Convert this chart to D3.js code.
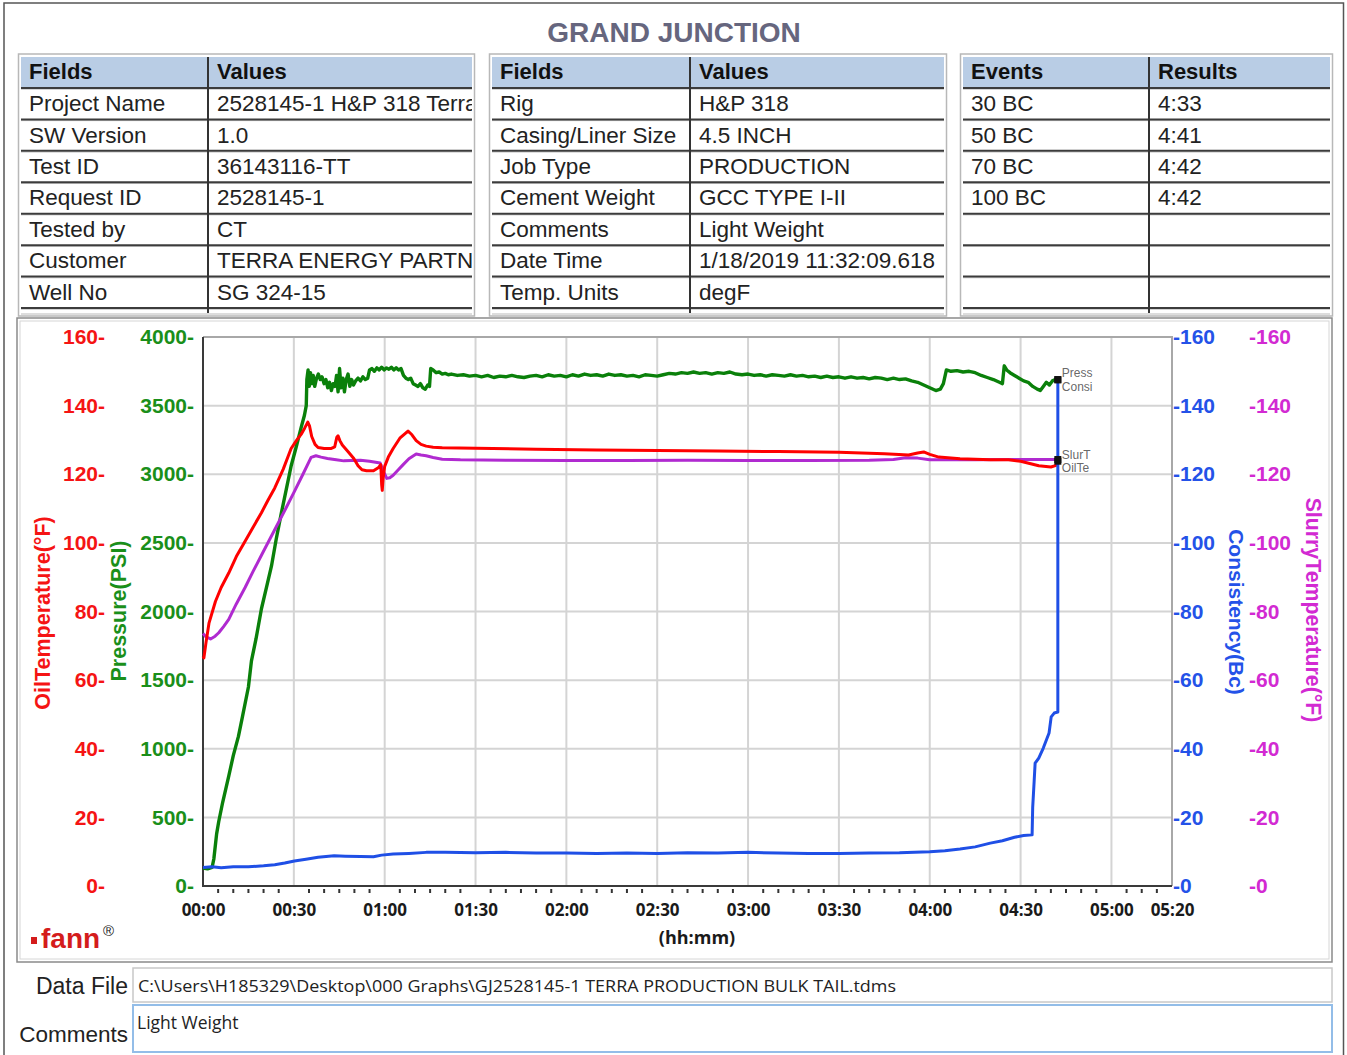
<!DOCTYPE html>
<html><head><meta charset="utf-8">
<script src="https://cdn.jsdelivr.net/npm/d3@7"></script>
<style>body{margin:0;background:#fff}svg{display:block}</style>
</head><body>
<svg id="c" width="1347" height="1055"></svg>
<script>
// ---------------- DATA ----------------
const chartTitle = "GRAND JUNCTION";
const t1Header = ["Fields", "Values"];
const t1Fields = ["Project Name", "SW Version", "Test ID", "Request ID", "Tested by", "Customer", "Well No"];
const t1Values = ["2528145-1 H&P 318 Terra", "1.0", "36143116-TT", "2528145-1", "CT", "TERRA ENERGY PARTN", "SG 324-15"];
const t2Header = ["Fields", "Values"];
const t2Fields = ["Rig", "Casing/Liner Size", "Job Type", "Cement Weight", "Comments", "Date Time", "Temp. Units"];
const t2Values = ["H&P 318", "4.5 INCH", "PRODUCTION", "GCC TYPE I-II", "Light Weight", "1/18/2019 11:32:09.618", "degF"];
const t3Header = ["Events", "Results"];
const t3Events = ["30 BC", "50 BC", "70 BC", "100 BC", "", "", ""];
const t3Results = ["4:33", "4:41", "4:42", "4:42", "", "", ""];

const timeTickMinutes = [0, 30, 60, 90, 120, 150, 180, 210, 240, 270, 300, 320];
const timeTickLabels = ["00:00", "00:30", "01:00", "01:30", "02:00", "02:30", "03:00", "03:30", "04:00", "04:30", "05:00", "05:20"];
const tempTicks = [0, 20, 40, 60, 80, 100, 120, 140, 160];
const pressTicks = [0, 500, 1000, 1500, 2000, 2500, 3000, 3500, 4000];
const consTicks = [0, 20, 40, 60, 80, 100, 120, 140, 160];
const slurryTicks = [0, 20, 40, 60, 80, 100, 120, 140, 160];

const xLabel = "(hh:mm)";
const oilLabel = "OilTemperature(°F)";
const pressLabel = "Pressure(PSI)";
const consLabel = "Consistency(Bc)";
const slurryLabel = "SlurryTemperature(°F)";
const endLabels = ["Press", "Consi", "OilTe", "SlurT"];

// [minutes, psi]
const pressure = [[0,130],[1.5,125],[3,135],[3.6,200],[4.5,380],[5.2,470],[6.5,610],[8.5,800],[10,950],[11.7,1090],[13,1230],[15,1450],[16,1640],[17.5,1800],[19.3,2020],[21,2180],[22.6,2330],[24.2,2530],[25.9,2720],[27.5,2890],[29.1,3060],[30.8,3200],[32.4,3340],[33.5,3430],[34.1,3500],[34.3,3690],[34.7,3760],[35.1,3640],[35.5,3740],[35.9,3660],[36.4,3720],[36.9,3640],[37.5,3700],[38.1,3730],[38.7,3690],[39.3,3710],[40,3660],[40.6,3690],[41.2,3630],[41.8,3670],[42.4,3610],[43,3660],[43.6,3640],[44.1,3720],[44.6,3600],[45.1,3770],[45.6,3630],[46.2,3700],[46.7,3600],[47.3,3690],[47.9,3730],[48.5,3640],[49.1,3690],[49.7,3650],[50.4,3680],[51.2,3700],[52,3680],[52.8,3710],[53.6,3690],[54.4,3700],[55,3760],[55.8,3770],[56.6,3750],[57.4,3775],[58.2,3760],[59,3780],[59.8,3760],[60.6,3775],[61.4,3765],[62.2,3780],[63,3760],[63.8,3775],[64.6,3760],[65.4,3770],[66.2,3720],[67,3700],[67.8,3690],[68.6,3700],[69.4,3660],[70.2,3650],[71,3640],[71.8,3660],[72.6,3630],[73.4,3620],[74.2,3650],[74.8,3640],[75.2,3770],[76,3760],[77,3740],[78,3745],[79,3730],[80,3735],[81,3725],[82,3730],[84,3720],[86,3725],[88,3715],[90,3720],[92,3710],[94,3720],[96,3705],[98,3715],[100,3710],[102,3720],[104,3710],[106,3705],[108,3715],[110,3720],[112,3710],[114,3725],[116,3715],[118,3720],[120,3710],[122,3725],[124,3715],[126,3730],[128,3720],[130,3725],[132,3715],[134,3730],[136,3720],[138,3725],[140,3715],[142,3720],[144,3710],[146,3725],[148,3720],[150,3715],[152,3725],[154,3735],[156,3730],[158,3740],[160,3735],[162,3745],[164,3735],[166,3740],[168,3730],[170,3740],[172,3735],[174,3745],[176,3730],[178,3725],[180,3730],[182,3720],[184,3725],[186,3715],[188,3725],[190,3720],[192,3715],[194,3725],[196,3715],[198,3720],[200,3710],[202,3715],[204,3705],[206,3715],[208,3705],[210,3710],[212,3700],[214,3710],[216,3700],[218,3705],[220,3695],[222,3705],[224,3700],[226,3690],[228,3700],[230,3690],[232,3695],[234,3680],[236,3670],[238,3650],[240,3630],[242,3610],[243.5,3620],[244.5,3660],[245.5,3760],[247,3750],[249,3755],[251,3745],[253,3750],[255,3740],[257,3720],[259,3705],[261,3690],[263,3670],[264,3660],[264.6,3790],[265.4,3760],[266.5,3740],[268,3720],[269.5,3700],[271,3680],[272.5,3670],[274,3640],[275.5,3620],[276.5,3610],[277.5,3640],[278.5,3670],[279.5,3650],[280.5,3680],[281.5,3690],[282.3,3690]];

// [minutes, °F]
const oilTemp = [[0,67],[0.3,66.5],[1,71],[2,76.7],[4.1,82.9],[6,87],[8.5,91.2],[11,96],[13.9,100.5],[16.5,104.5],[19.3,108.8],[21.5,112.5],[23.7,116],[26.5,121.5],[29.1,127.5],[31,130],[32.4,131.6],[33.6,133.5],[34.6,135.2],[35.2,134],[35.9,131],[37,128.7],[38,127.8],[40,127.5],[42.2,127.5],[43.5,128],[44.2,130.8],[44.6,131.2],[45.2,129.8],[46,128.5],[48,126.5],[49.8,124.6],[51.2,122.5],[52.5,121.3],[54,121],[56.3,121],[58,122],[58.7,122.8],[59,117],[59.2,115.3],[59.5,119],[60,122.3],[61.2,125],[62.8,127.5],[65,130.5],[67.7,132.6],[69,131.5],[70.4,129.8],[72,128.7],[73.7,128.2],[76,127.9],[79,127.7],[90,127.6],[110,127.3],[130,127.1],[150,126.9],[170,126.8],[190,126.6],[210,126.4],[225,126],[233,125.6],[236,126.2],[238,126.5],[240,125.8],[243,125],[250,124.5],[260,124.2],[266,124.2],[270,123.8],[276,122.5],[280,122.1],[281.5,122.5],[282.3,123.8]];

// [minutes, °F]
const slurryTemp = [[0,73.6],[1,72.6],[2.5,72],[4,72.8],[5.2,73.8],[6.8,75.6],[8.5,77.7],[11,82.2],[13.9,87],[16.5,91.6],[19.3,96.4],[22,101],[24.8,105.7],[27.5,110.3],[30.2,115],[33,120],[35.7,124.9],[37.3,125.4],[39,125],[41.1,124.6],[44,124.2],[46.5,123.9],[49,124],[52,124.1],[55,123.8],[58.5,123.3],[59.5,121],[60.7,118.8],[61.7,119],[62.8,119.7],[64.5,121.3],[66.1,122.8],[68,124.5],[70.4,125.9],[72,125.6],[73.7,125.4],[76,124.9],[79,124.4],[85,124.2],[100,124.1],[120,124],[140,124],[160,124.1],[180,124],[200,124],[220,124.1],[228,124.3],[232,124.8],[236,124.7],[240,124.2],[255,124.2],[270,124.3],[282.3,124.3]];

// [minutes, Bc]
const consistency = [[0,5.4],[3,5.6],[6,5.3],[10,5.6],[15,5.6],[20,5.9],[23.7,6.2],[27,6.7],[30.2,7.3],[34,7.8],[38,8.4],[43.3,8.8],[47,8.7],[52,8.6],[56.3,8.5],[59,9],[62.8,9.3],[68,9.5],[73.7,9.8],[80,9.8],[90,9.7],[100,9.8],[110,9.6],[120,9.6],[130,9.5],[140,9.6],[150,9.5],[160,9.7],[170,9.6],[180,9.8],[190,9.6],[200,9.5],[210,9.5],[220,9.6],[230,9.7],[240,10],[245,10.3],[250,10.8],[255,11.4],[260,12.5],[264,13.2],[268,14.2],[271,14.7],[273.8,14.9],[274,23],[274.5,30.9],[274.8,35.8],[276,37.3],[277.5,40.2],[279.4,44.6],[280.1,49.3],[281.1,50.4],[282.3,50.7],[282.3,147.5]];

const dataFileLabel = "Data File";
const dataFilePath = "C:\\Users\\H185329\\Desktop\\000 Graphs\\GJ2528145-1 TERRA PRODUCTION BULK TAIL.tdms";
const commentsLabel = "Comments";
const commentsText = "Light Weight";

// ---------------- DRAW ----------------
const svg = d3.select("#c");
const SANS = "'Liberation Sans', Arial, sans-serif";
const OPEN = "'Open Sans', 'DejaVu Sans', sans-serif";

const C = {red: "#ff0000", green: "#0a800a", purple: "#b02ad0", blue: "#1f4fe6",
  redT: "#f51414", greenT: "#1a8f1a", blueT: "#2452e8", magT: "#d22ad2"};

// page border
svg.append("path").attr("d", "M4,1056 L4,3 L1343.5,3 L1343.5,1056")
  .attr("fill", "none").attr("stroke", "#555").attr("stroke-width", 1.5);

// title
svg.append("text").attr("x", 674).attr("y", 42).attr("text-anchor", "middle")
  .attr("font-family", SANS).attr("font-weight", "bold").attr("font-size", 28)
  .attr("fill", "#66667e").text(chartTitle);

// tables
function drawTable(id, left, right, div, header, col1, col2) {
  const g = svg.append("g");
  const top = 56, hb = 88, rowH = 31.43;
  g.append("rect").attr("x", left - 1.5).attr("y", 54).attr("width", right - left + 3).attr("height", 262)
    .attr("fill", "none").attr("stroke", "#b8b8b8").attr("stroke-width", 1.5);
  g.append("rect").attr("x", left + 1).attr("y", top + 1).attr("width", right - left - 2).attr("height", hb - top - 1)
    .attr("fill", "#b9cde5");
  for (let k = 0; k <= 7; k++) {
    const yy = hb + rowH * k;
    g.append("line").attr("x1", left + 1).attr("x2", right - 1).attr("y1", yy + 1.2).attr("y2", yy + 1.2)
      .attr("stroke", "#c4c4c4").attr("stroke-width", 1);
    g.append("line").attr("x1", left + 1).attr("x2", right - 1).attr("y1", yy).attr("y2", yy)
      .attr("stroke", "#3c3c3c").attr("stroke-width", 2);
  }
  g.append("line").attr("x1", left + 1).attr("x2", right - 1).attr("y1", 314).attr("y2", 314)
    .attr("stroke", "#bbb").attr("stroke-width", 1.2);
  g.append("line").attr("x1", div).attr("x2", div).attr("y1", top + 1).attr("y2", 313)
    .attr("stroke", "#333").attr("stroke-width", 2);
  const cp1 = id + "a", cp2 = id + "b";
  const defs = svg.append("defs");
  defs.append("clipPath").attr("id", cp1).append("rect").attr("x", left).attr("y", 50).attr("width", div - left - 2).attr("height", 270);
  defs.append("clipPath").attr("id", cp2).append("rect").attr("x", div + 2).attr("y", 50).attr("width", right - div - 3).attr("height", 270);
  const tx1 = left + 9, tx2 = div + 9;
  g.append("text").attr("x", tx1).attr("y", 71).attr("dy", "0.35em").attr("font-family", SANS)
    .attr("font-weight", "bold").attr("font-size", 22).attr("fill", "#111").text(header[0]);
  g.append("text").attr("x", tx2).attr("y", 71).attr("dy", "0.35em").attr("font-family", SANS)
    .attr("font-weight", "bold").attr("font-size", 22).attr("fill", "#111").text(header[1]);
  g.append("g").attr("clip-path", `url(#${cp1})`).selectAll("text").data(col1).join("text")
    .attr("x", tx1).attr("y", (d, i) => hb + rowH * i + rowH / 2 - 0.5).attr("dy", "0.35em")
    .attr("font-family", SANS).attr("font-size", 22.5).attr("fill", "#222").text(d => d);
  g.append("g").attr("clip-path", `url(#${cp2})`).selectAll("text").data(col2).join("text")
    .attr("x", tx2).attr("y", (d, i) => hb + rowH * i + rowH / 2 - 0.5).attr("dy", "0.35em")
    .attr("font-family", SANS).attr("font-size", 22.5).attr("fill", "#222").text(d => d);
}
drawTable("t1", 20, 473, 208, t1Header, t1Fields, t1Values);
drawTable("t2", 491, 945, 690, t2Header, t2Fields, t2Values);
drawTable("t3", 962, 1331, 1149, t3Header, t3Events, t3Results);

// chart frame
svg.append("rect").attr("x", 17).attr("y", 318).attr("width", 1315).attr("height", 644)
  .attr("fill", "none").attr("stroke", "#8a8a8a").attr("stroke-width", 1.5);
svg.append("rect").attr("x", 20).attr("y", 321).attr("width", 1309).attr("height", 638)
  .attr("fill", "none").attr("stroke", "#d6d6d6").attr("stroke-width", 1);

// scales
const L = 203, R = 1172, T = 337, B = 886;
const x = d3.scaleLinear().domain([0, 320]).range([L, R]);
const yTemp = d3.scaleLinear().domain([0, 160]).range([B, T]);
const yPress = d3.scaleLinear().domain([0, 4000]).range([B, T]);
const yCons = d3.scaleLinear().domain([0, 160]).range([B, T]);
const ySlurry = d3.scaleLinear().domain([0, 160]).range([B, T]);

// grid
const grid = svg.append("g");
grid.selectAll("line.v").data(timeTickMinutes.filter(d => d > 0 && d < 320)).join("line")
  .attr("x1", d => x(d)).attr("x2", d => x(d)).attr("y1", T).attr("y2", B)
  .attr("stroke", "#d4d4d4").attr("stroke-width", 2);
grid.selectAll("line.h").data(tempTicks.filter(d => d > 0 && d < 160)).join("line")
  .attr("x1", L).attr("x2", R).attr("y1", d => yTemp(d)).attr("y2", d => yTemp(d))
  .attr("stroke", "#d4d4d4").attr("stroke-width", 2);

// plot border
svg.append("path").attr("d", `M${L},${T} L${R},${T} L${R},${B}`).attr("fill", "none")
  .attr("stroke", "#a8a8a8").attr("stroke-width", 2);
svg.append("path").attr("d", `M${L},${T} L${L},${B} L${R},${B}`).attr("fill", "none")
  .attr("stroke", "#3a3a3a").attr("stroke-width", 2);

// minor ticks
svg.append("g").selectAll("line").data(d3.range(5, 320, 5).filter(d => d % 30 !== 0)).join("line")
  .attr("x1", d => x(d)).attr("x2", d => x(d)).attr("y1", B + 3).attr("y2", B + 7)
  .attr("stroke", "#333").attr("stroke-width", 2);

// axes
function styleAxis(g, color, size, family) {
  g.select(".domain").remove();
  g.selectAll(".tick line").remove();
  g.selectAll("text").attr("fill", color).attr("font-size", size).attr("font-family", family)
    .attr("font-weight", "bold");
}
svg.append("g").attr("transform", `translate(105,0)`)
  .call(d3.axisLeft(yTemp).tickValues(tempTicks).tickSize(0).tickPadding(0).tickFormat(d => d + "-"))
  .call(g => styleAxis(g, C.redT, 21, SANS));
svg.append("g").attr("transform", `translate(194,0)`)
  .call(d3.axisLeft(yPress).tickValues(pressTicks).tickSize(0).tickPadding(0).tickFormat(d => d + "-"))
  .call(g => styleAxis(g, C.greenT, 21, SANS));
svg.append("g").attr("transform", `translate(1173,0)`)
  .call(d3.axisRight(yCons).tickValues(consTicks).tickSize(0).tickPadding(0).tickFormat(d => "-" + d))
  .call(g => styleAxis(g, C.blueT, 21, SANS));
svg.append("g").attr("transform", `translate(1249,0)`)
  .call(d3.axisRight(ySlurry).tickValues(slurryTicks).tickSize(0).tickPadding(0).tickFormat(d => "-" + d))
  .call(g => styleAxis(g, C.magT, 21, SANS));
svg.append("g").attr("transform", `translate(0,910)`)
  .call(d3.axisBottom(x).tickValues(timeTickMinutes).tickSize(0).tickPadding(0)
    .tickFormat((d, i) => timeTickLabels[i]))
  .call(g => { styleAxis(g, "#1a1a1a", 17, OPEN); g.selectAll("text").attr("y", 0).attr("dy", "0.35em"); });

// axis titles
svg.append("text").attr("transform", "translate(42,613) rotate(-90)").attr("text-anchor", "middle")
  .attr("dy", "0.35em").attr("font-family", SANS).attr("font-weight", "bold").attr("font-size", 21.5)
  .attr("fill", C.redT).text(oilLabel);
svg.append("text").attr("transform", "translate(118,611) rotate(-90)").attr("text-anchor", "middle")
  .attr("dy", "0.35em").attr("font-family", SANS).attr("font-weight", "bold").attr("font-size", 21.5)
  .attr("fill", C.greenT).text(pressLabel);
svg.append("text").attr("transform", "translate(1236,612) rotate(90)").attr("text-anchor", "middle")
  .attr("dy", "0.35em").attr("font-family", SANS).attr("font-weight", "bold").attr("font-size", 21)
  .attr("fill", C.blueT).text(consLabel);
svg.append("text").attr("transform", "translate(1313,610) rotate(90)").attr("text-anchor", "middle")
  .attr("dy", "0.35em").attr("font-family", SANS).attr("font-weight", "bold").attr("font-size", 21.3)
  .attr("fill", C.magT).text(slurryLabel);
svg.append("text").attr("x", 697).attr("y", 938).attr("dy", "0.35em").attr("text-anchor", "middle")
  .attr("font-family", OPEN).attr("font-weight", "bold").attr("font-size", 18).attr("fill", "#1a1a1a").text(xLabel);

// lines
const plot = svg.append("g");
const line = (ys) => d3.line().x(d => x(d[0])).y(d => ys(d[1]));
plot.append("path").datum(pressure).attr("d", line(yPress)).attr("fill", "none")
  .attr("stroke", C.green).attr("stroke-width", 3.4).attr("stroke-linejoin", "round");
plot.append("path").datum(slurryTemp).attr("d", line(ySlurry)).attr("fill", "none")
  .attr("stroke", C.purple).attr("stroke-width", 3).attr("stroke-linejoin", "round");
plot.append("path").datum(oilTemp).attr("d", line(yTemp)).attr("fill", "none")
  .attr("stroke", C.red).attr("stroke-width", 3).attr("stroke-linejoin", "round");
plot.append("path").datum(consistency).attr("d", line(yCons)).attr("fill", "none")
  .attr("stroke", C.blue).attr("stroke-width", 3).attr("stroke-linejoin", "round");

// end markers and labels
const ends = [
  {p: pressure[pressure.length - 1], s: yPress, lab: endLabels[0], dy: -7},
  {p: consistency[consistency.length - 1], s: yCons, lab: endLabels[1], dy: 7},
  {p: oilTemp[oilTemp.length - 1], s: yTemp, lab: endLabels[2], dy: 7},
  {p: slurryTemp[slurryTemp.length - 1], s: ySlurry, lab: endLabels[3], dy: -5}
];
svg.append("g").selectAll("rect").data(ends).join("rect")
  .attr("x", d => x(d.p[0]) - 3.5).attr("y", d => d.s(d.p[1]) - 3.5).attr("width", 7).attr("height", 7)
  .attr("fill", "#111");
svg.append("g").selectAll("text").data(ends).join("text")
  .attr("x", d => x(d.p[0]) + 4).attr("y", d => d.s(d.p[1]) + d.dy).attr("dy", "0.35em")
  .attr("font-family", SANS).attr("font-size", 12).attr("fill", "#555").attr("fill-opacity", 0.9)
  .text(d => d.lab);

// fann logo
svg.append("rect").attr("x", 31).attr("y", 937).attr("width", 6).attr("height", 7).attr("fill", "#d41c1c");
svg.append("text").attr("x", 41).attr("y", 948).attr("font-family", SANS).attr("font-weight", "bold")
  .attr("font-size", 28).attr("fill", "#d41c1c").text("fann");
svg.append("text").attr("x", 103).attr("y", 936).attr("font-family", SANS)
  .attr("font-size", 15).attr("fill", "#222").text("®");

// data file & comments
svg.append("rect").attr("x", 133).attr("y", 968).attr("width", 1199).attr("height", 34)
  .attr("fill", "#fff").attr("stroke", "#c8c8c8").attr("stroke-width", 1.5);
svg.append("rect").attr("x", 133).attr("y", 1005).attr("width", 1199).attr("height", 47)
  .attr("fill", "#fff").attr("stroke", "#93bde8").attr("stroke-width", 2);
svg.append("text").attr("x", 128).attr("y", 986).attr("dy", "0.35em").attr("text-anchor", "end")
  .attr("font-family", SANS).attr("font-size", 23).attr("fill", "#222").text(dataFileLabel);
svg.append("text").attr("x", 128).attr("y", 1034).attr("dy", "0.35em").attr("text-anchor", "end")
  .attr("font-family", SANS).attr("font-size", 22.5).attr("fill", "#222").text(commentsLabel);
svg.append("text").attr("x", 138).attr("y", 986).attr("dy", "0.35em")
  .attr("font-family", OPEN).attr("font-size", 16).attr("fill", "#222")
  .attr("textLength", 758).attr("lengthAdjust", "spacingAndGlyphs").text(dataFilePath);
svg.append("text").attr("x", 137).attr("y", 1023).attr("dy", "0.35em")
  .attr("font-family", OPEN).attr("font-size", 17.5).attr("fill", "#222").text(commentsText);
</script>
</body></html>
